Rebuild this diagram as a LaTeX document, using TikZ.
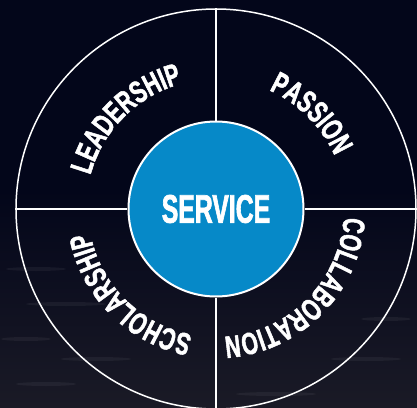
\documentclass[tikz,border=0pt]{standalone}
\usepackage{fontspec}
\newfontfamily\wheelfont[FakeStretch=0.68, FakeBold=1.6]{Liberation Sans}
\newfontfamily\hubfont[FakeStretch=0.62, FakeBold=1.6]{Liberation Sans}
\usetikzlibrary{decorations.text}

\definecolor{nightsky}{RGB}{3, 6, 26}
\definecolor{seadark}{RGB}{26, 26, 38}
\definecolor{hubblue}{RGB}{6, 137, 200}

\tikzset{
  divider/.style={draw=white, line width=2pt},
  ripple/.style={fill=white, opacity=0.05},
  arclabel/.style={decorate, decoration={text along path, text align=center,
    text={|\wheelfont\bfseries\fontsize{31}{31}\selectfont\color{white}|#1}}}
}

\begin{document}
\begin{tikzpicture}[x=1pt, y=1pt]
  % backdrop: dark sky fading into the sea
  \useasboundingbox (-216,-198) rectangle (201,209);
  \fill[nightsky] (-216,-198) rectangle (201,209);
  \shade[top color=nightsky, bottom color=seadark] (-216,-198) rectangle (201,20);
  \foreach \x/\y/\w in {-180/-60/30, -150/-95/40, -190/-130/25, -120/-150/35,
                        -170/-175/30, 150/-150/35, 170/-110/25, 60/-185/40}
    \fill[ripple] (\x,\y) ellipse[x radius=\w, y radius=2];

  % outer ring and hub
  \node[circle, draw=white, line width=1.5pt, minimum size=400pt, inner sep=0pt] (ring) at (0,0) {};
  \node[circle, fill=hubblue, draw=white, line width=2pt, minimum size=175pt, inner sep=0pt,
        text=white, font=\hubfont\bfseries\fontsize{40}{40}\selectfont] (hub) at (0,0) {SERVICE};

  % quadrant dividers
  \draw[divider] (ring.north) -- (hub.north);
  \draw[divider] (ring.south) -- (hub.south);
  \draw[divider] (ring.west) -- (hub.west);
  \draw[divider] (ring.east) -- (hub.east);

  % labels running clockwise round the ring
  \path[arclabel=LEADERSHIP] (hub.center) ++(180:130) arc[start angle=180, end angle=90, radius=130];
  \path[arclabel=PASSION] (hub.center) ++(90:130) arc[start angle=90, end angle=0, radius=130];
  \path[arclabel=COLLABORATION] (hub.center) ++(0:128) arc[start angle=0, end angle=-90, radius=128];
  \path[arclabel=SCHOLARSHIP] (hub.center) ++(-90:128) arc[start angle=-90, end angle=-180, radius=128];
\end{tikzpicture}
\end{document}
